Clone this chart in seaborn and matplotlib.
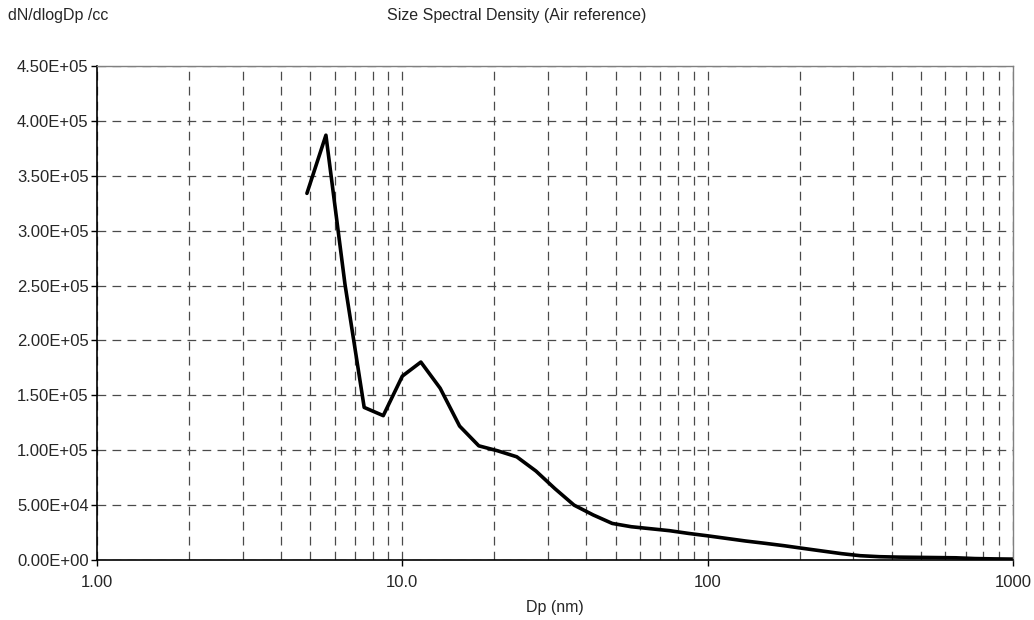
import matplotlib
matplotlib.use('Agg')
import matplotlib.pyplot as plt
import matplotlib.ticker as mticker
import numpy as np
import pandas as pd
import seaborn as sns

# particle diameter (nm) and size spectral density (dN/dlogDp /cc)
dp_nm = [4.87, 5.62, 6.49, 7.50, 8.66, 10.0, 11.5, 13.3, 15.4, 17.8,
         20.5, 23.7, 27.4, 31.6, 36.5, 42.2, 48.7, 56.2, 64.9, 75.0,
         86.6, 100, 115, 133, 154, 178, 205, 237, 274, 316,
         365, 422, 487, 562, 649, 750, 866, 1000]
dndlogdp = [334000, 387000, 251000, 139000, 131500, 167500, 180300, 156500, 122000, 104000,
            99500, 94000, 81000, 65000, 50000, 41000, 33300, 30300, 28500, 26700,
            24200, 22000, 19700, 17300, 15200, 13000, 10600, 8200, 5800, 3900,
            3000, 2600, 2400, 2200, 2000, 1300, 1000, 800]

x_ticks = [1, 10, 100, 1000]
x_tick_labels = ['1.00', '10.0', '100', '1000']
y_ticks = [0, 50000, 100000, 150000, 200000, 250000, 300000, 350000, 400000, 450000]

df = pd.DataFrame({'Dp': dp_nm, 'dN': dndlogdp})

sns.set_style('white')
plt.rcParams['font.family'] = ['Liberation Sans', 'DejaVu Sans']

fig = plt.figure(figsize=(10.34, 6.2), dpi=100)
ax = fig.add_axes([0.0938, 0.0968, 0.8859, 0.7967])

sns.lineplot(data=df, x='Dp', y='dN', ax=ax, color='black', linewidth=2.6,
             sort=False, legend=False)

ax.set_xscale('log')
ax.set_xlim(1, 1000)
ax.set_ylim(0, 450000)

# grid: dashed, major + minor on x
ax.set_xticks(x_ticks)
ax.xaxis.set_major_formatter(mticker.FixedFormatter(x_tick_labels))
ax.xaxis.set_minor_locator(mticker.LogLocator(base=10, subs=np.arange(2, 10)))
ax.xaxis.set_minor_formatter(mticker.NullFormatter())
ax.set_yticks(y_ticks)
ax.yaxis.set_major_formatter(mticker.FuncFormatter(lambda v, p: f'{v:.2E}'))

grid_kw = dict(color='#4a4a4a', linewidth=0.9, linestyle=(0, (7, 5)))
ax.grid(True, which='major', axis='both', **grid_kw)
ax.grid(True, which='minor', axis='x', **grid_kw)
ax.set_axisbelow(True)

ax.tick_params(axis='both', which='major', direction='out', length=4, width=1,
               color='black', labelsize=12, left=True, bottom=True)
ax.tick_params(axis='y', pad=2)
ax.tick_params(axis='x', pad=7)
ax.tick_params(axis='x', which='minor', length=0)

for side in ['left', 'bottom']:
    ax.spines[side].set_color('black')
    ax.spines[side].set_linewidth(1.2)
for side in ['top', 'right']:
    ax.spines[side].set_visible(True)
    ax.spines[side].set_color('#808080')
    ax.spines[side].set_linewidth(1.0)

ax.set_xlabel('Dp (nm)', fontsize=11.5, labelpad=7)
ax.set_ylabel('')
fig.text(0.008, 0.987, 'dN/dlogDp /cc', fontsize=11.5, ha='left', va='top')
fig.text(0.5, 0.987, 'Size Spectral Density (Air reference)', fontsize=11.5, ha='center', va='top')

fig.savefig('out.png', dpi=100)
plt.close(fig)
